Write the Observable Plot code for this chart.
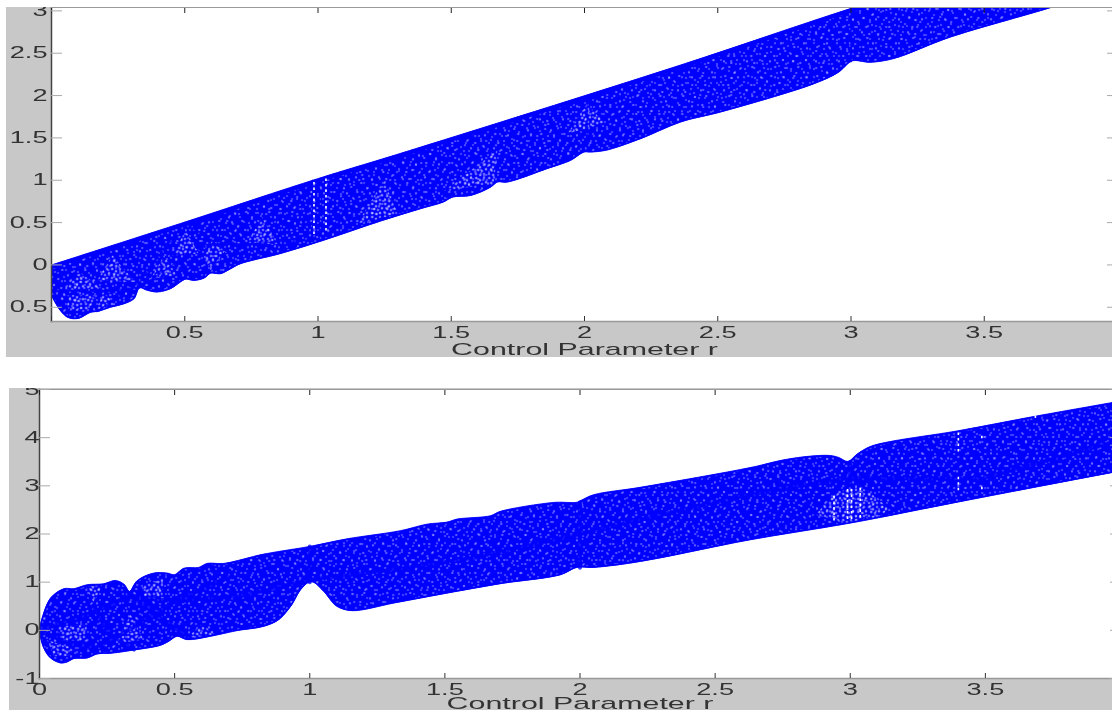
<!DOCTYPE html>
<html><head><meta charset="utf-8">
<script src="https://cdn.jsdelivr.net/npm/d3@7"></script>
<script src="https://cdn.jsdelivr.net/npm/@observablehq/plot@0.6"></script>
<style>
html,body{margin:0;padding:0;background:#fff;width:1112px;height:711px;overflow:hidden}
.panel{position:absolute;overflow:hidden}
.panel svg{display:block;max-width:none;overflow:hidden;filter:blur(.35px)}
</style></head><body>
<div id="top" class="panel" style="left:6px;top:7px;width:1106px;height:350px"></div>
<div id="bottom" class="panel" style="left:9px;top:388px;width:1103px;height:322px"></div>
<script>
const xTicks=[0,0.5,1,1.5,2,2.5,3,3.5];
const xLabel="Control Parameter r";
const topXLabels=["","0.5","1","1.5","2","2.5","3","3.5"];
const bottomXLabels=["0","0.5","1","1.5","2","2.5","3","3.5"];
const topYTicks=[3,2.5,2,1.5,1,0.5,0,-0.5];
const topYLabels=["3","2.5","2","1.5","1","0.5","0","0.5"];
const bottomYTicks=[5,4,3,2,1,0,-1];
const bottomYLabels=["5","4","3","2","1","0","-1"];

const topUpper=[[0,0],[0.5,0.506],[1,1.02],[1.31,1.318],[2.36,2.36],[3,3.03],[4,4.02]];
const topLower=[[0,-0.36],[0.034,-0.54],[0.065,-0.625],[0.103,-0.63],[0.146,-0.56],[0.178,-0.546],[0.221,-0.5],[0.271,-0.46],[0.309,-0.4],[0.33,-0.27],[0.36,-0.3],[0.397,-0.32],[0.447,-0.28],[0.484,-0.2],[0.503,-0.168],[0.534,-0.183],[0.572,-0.156],[0.597,-0.097],[0.634,-0.104],[0.672,-0.045],[0.709,0.014],[0.86,0.135],[1.02,0.29],[1.235,0.518],[1.385,0.664],[1.47,0.742],[1.504,0.8],[1.573,0.82],[1.648,0.92],[1.673,0.979],[1.711,0.979],[1.86,1.137],[1.948,1.235],[1.998,1.333],[2.023,1.333],[2.08,1.353],[2.21,1.49],[2.361,1.688],[2.511,1.806],[2.861,2.14],[2.949,2.267],[3.005,2.41],[3.048,2.4],[3.074,2.393],[3.16,2.437],[3.375,2.693],[3.75,3.04],[4,3.3]];
const topPatches=[
 [[0.196,-0.321],[0.165,-0.538],[0.24,-0.479]],
 [[0.422,0.112],[0.372,-0.163],[0.472,-0.124]],
 [[0.503,0.408],[0.453,0.112],[0.553,0.132]],
 [[0.603,0.29],[0.572,0.092],[0.597,-0.065],[0.653,0.171]],
 [[0.228,0.112],[0.171,-0.183],[0.315,-0.203]],
 [[0.791,0.565],[0.735,0.27],[0.853,0.23]],
 [[0.109,-0.085],[0.046,-0.3],[0.19,-0.281]],
 [[0.059,-0.36],[0.171,-0.36],[0.134,-0.54],[0.065,-0.54]],
 [[1.247,1.0],[1.147,0.487],[1.298,0.605]],
 [[1.673,1.353],[1.473,0.88],[1.66,0.96]],
 [[2.011,1.905],[1.936,1.55],[2.073,1.669]]
];
const topRidges=[
 [[0,-0.3],[0.2,-0.32],[0.33,-0.27]],
 [[0.33,-0.27],[0.5,0.1],[0.6,0.25],[0.75,0.25],[1,0.3]],
 [[0.17,-0.55],[0.33,-0.2],[0.5,0.5]],
 [[0.5,0.5],[0.66,0.15],[0.72,0.05]],
 [[0.98,0.3],[0.98,1]],[[1.005,0.3],[1.005,1]],[[3.0,2.4],[3.0,3.04]],[[2.01,1.35],[2.01,2]]
];
const topGaps={r:[0.985,1.03],y1:[0.36,0.4],y2:[0.98,1.02]};

const bottomUpper=[[0,0],[0.01,0.255],[0.041,0.67],[0.09,0.865],[0.127,0.865],[0.176,0.947],[0.238,0.968],[0.281,1.037],[0.312,0.96],[0.333,0.81],[0.361,1.03],[0.423,1.19],[0.472,1.19],[0.5,1.155],[0.534,1.29],[0.589,1.307],[0.62,1.39],[0.682,1.39],[0.83,1.583],[1,1.743],[1.138,1.9],[1.336,2.07],[1.434,2.205],[1.508,2.247],[1.545,2.31],[1.669,2.38],[1.705,2.47],[1.903,2.656],[1.989,2.66],[2.008,2.71],[2.05,2.815],[2.223,2.97],[2.63,3.38],[2.754,3.54],[2.852,3.617],[2.926,3.63],[2.957,3.59],[2.992,3.506],[3.025,3.658],[3.074,3.817],[3.148,3.92],[3.395,4.14],[3.679,4.44],[4,4.76]];
const bottomLower=[[0,-0.03],[0.016,-0.367],[0.041,-0.575],[0.078,-0.678],[0.102,-0.657],[0.127,-0.587],[0.176,-0.575],[0.213,-0.49],[0.263,-0.477],[0.337,-0.42],[0.448,-0.31],[0.478,-0.228],[0.509,-0.124],[0.546,-0.193],[0.633,-0.124],[0.731,-0.006],[0.83,0.083],[0.885,0.222],[0.929,0.498],[0.966,0.845],[0.996,0.996],[1.015,0.996],[1.052,0.81],[1.101,0.498],[1.157,0.408],[1.311,0.566],[1.496,0.76],[1.705,0.968],[1.928,1.155],[1.989,1.307],[2.051,1.307],[2.223,1.43],[2.63,1.88],[3,2.226],[3.395,2.66],[4,3.31]];
const bottomPatches=[
 [[0.201,0.566],[0.17,0.913],[0.232,0.948]],
 [[0.337,0.325],[0.281,-0.263],[0.386,-0.193]],
 [[0.028,-0.193],[0.053,-0.54],[0.102,-0.54],[0.133,-0.4]],
 [[0.065,0.083],[0.176,0.118],[0.17,-0.228],[0.078,-0.193]],
 [[0.386,0.948],[0.46,1.085],[0.454,0.6],[0.386,0.67]],
 [[0.596,0.118],[0.546,-0.16],[0.651,-0.09]],
 [[2.871,2.4],[2.939,2.815],[3,2.967],[3.062,2.92],[3.142,2.537],[3.105,2.33],[2.988,2.226]]
];
const bottomRidges=[
 [[0,0],[0.2,0.38],[0.333,0.72],[0.5,0.6],[0.75,0.72],[1,1.05],[1.3,1.25],[1.6,1.5],[2,2],[2.3,2.4],[2.63,2.82],[3,3.17],[3.49,3.15],[4,3.95]],
 [[0,0],[0.1,-0.25],[0.2,-0.38],[0.3,-0.1],[0.5,0.6],[0.7,1.1]],
 [[0.2,0.5],[0.26,-0.1],[0.35,-0.4]],
 [[0.33,0.75],[0.5,0.05],[0.55,-0.15]],
 [[1,1],[1,1.74]],[[2,1.3],[2,2.66]],[[3,3],[3,3.5]]
];
const bottomGaps={r:[2.94,3.037,2.99,3.005,3.4,3.4,3.487,3.487,3.685,3.685],
 y1:[2.27,2.33,2.3,2.3,2.9,3.7,2.92,3.98,2.78,4.4],
 y2:[2.82,2.95,2.95,2.95,3.2,4.1,3.0,4.06,2.88,4.48]};

const FONT="'Liberation Sans',Arial,sans-serif";
const pt={x:d=>d[0],y:d=>d[1],clip:true};
const NS="http://www.w3.org/2000/svg";
/* texture tiles: purely a fill style for the band */
const speckA="M2 3h1v1h-1zM9 1h1.4v1h-1.4zM15 6h1v1.4h-1zM21 2h1v1h-1zM5 10h1.4v1h-1.4zM12 12h1v1h-1zM18 11h1v1.4h-1zM1 16h1v1h-1zM8 19h1.4v1h-1.4zM14 17h1v1h-1zM22 19h1v1h-1zM4 24h1v1.4h-1zM11 26h1.4v1h-1.4zM17 23h1v1h-1zM20 27h1v1h-1z";
const speckB="M1 1h1v1h-1zM6 4h1v1h-1zM11 2h1.3v1h-1.3zM16 5h1v1h-1zM24 1h1v1.3h-1zM28 7h1v1h-1zM3 9h1.3v1h-1.3zM9 12h1v1h-1zM20 10h1v1h-1zM14 14h1.3v1h-1.3zM26 14h1v1h-1z";
const denseA="M1 1h1.3v1h-1.3zM5 3h1v1.3h-1zM9 1h1v1h-1zM3 6h1.3v1h-1.3zM7 7h1v1h-1zM11 5h1v1.3h-1zM1 10h1v1h-1zM5 11h1.3v1h-1.3zM9 10h1v1h-1z";
function defsFor(id){
 const d=document.createElementNS(NS,"defs");
 d.innerHTML=`<pattern id="a${id}" patternUnits="userSpaceOnUse" width="23" height="29"><path d="${speckA}" fill="white" stroke="white" stroke-width=".2"/></pattern>
<pattern id="b${id}" patternUnits="userSpaceOnUse" width="31" height="17"><path d="${speckB}" fill="white" stroke="white" stroke-width=".1"/></pattern>
<pattern id="c${id}" patternUnits="userSpaceOnUse" width="13" height="13"><path d="${denseA}" fill="white" stroke="white" stroke-width=".6"/></pattern>`;
 return d;
}
function drawPanel(o){
 const uEnd=o.upper[o.upper.length-1], lEnd=o.lower[o.lower.length-1];
 const band=[...o.upper,uEnd,lEnd,...o.lower.slice().reverse()];
 const svg=Plot.plot({
  width:o.width,height:o.height,
  marginLeft:o.left,marginRight:o.right,marginTop:o.mTop,marginBottom:o.mBottom,
  style:{background:"#c8c8c8",fontFamily:FONT,fontSize:"16px",color:"#333"},
  x:{domain:[0,4]},y:{domain:o.yDomain},
  marks:[
   Plot.frame({fill:"white",stroke:null}),
   Plot.line(band,{...pt,curve:"catmull-rom",fill:"#0000ff",stroke:"#0000ff",strokeWidth:0.8}),
   Plot.line(band,{...pt,curve:"catmull-rom",fill:`url(#a${o.id})`,stroke:"none",fillOpacity:o.grain}),
   Plot.line(band,{...pt,curve:"catmull-rom",fill:`url(#b${o.id})`,stroke:"none",fillOpacity:o.grain}),
   ...o.patches.map(p=>Plot.line(p,{...pt,fill:`url(#c${o.id})`,stroke:"none",fillOpacity:o.dense})),
   ...o.ridges.map(p=>Plot.line(p,{...pt,stroke:"#0000ff",strokeWidth:o.ridgeWidth,strokeOpacity:0.75})),
   Plot.line(o.upper,{...pt,curve:"catmull-rom",stroke:"#0000ff",strokeWidth:o.edge,dy:o.edge/2}),
   Plot.line(o.lower,{...pt,curve:"catmull-rom",stroke:"#0000ff",strokeWidth:1.5,dy:-0.5}),
   Plot.ruleX(o.gaps.r,{x:d=>d,y1:(d,i)=>o.gaps.y1[i],y2:(d,i)=>o.gaps.y2[i],stroke:"white",strokeWidth:1.6,strokeDasharray:"2.5,3",clip:true}),
   Plot.frame({anchor:"left",stroke:"#444",strokeWidth:1.5}),
   Plot.frame({anchor:"bottom",stroke:"#999",strokeWidth:1.5}),
   Plot.frame({anchor:"top",stroke:"#999",strokeWidth:1}),
   Plot.axisX(xTicks,{anchor:"top",tickSize:-5,fill:"none",stroke:"#222",label:null}),
   Plot.axisX(xTicks,{anchor:"bottom",tickSize:-5,tickPadding:o.xPad,stroke:"#333",fill:"#333",
     tickFormat:(d,i)=>o.xLabels[i],label:xLabel,labelAnchor:"center",labelArrow:false,labelOffset:o.labelOffset}),
   Plot.axisY(o.yTicks,{anchor:"left",tickSize:-11,tickPadding:o.yPad,stroke:"#aaa",fill:"#333",
     tickFormat:(d,i)=>o.yLabels[i],label:null}),
   Plot.axisY(o.yTicks,{anchor:"right",tickSize:-11,fill:"none",stroke:"#aaa",label:null})
  ]
 });
 svg.prepend(defsFor(o.id));
 svg.querySelectorAll("text").forEach(t=>{
  const k=t.textContent.startsWith("Control")?1.9:1.7;
  const tr=t.getAttribute("transform")||"";
  t.setAttribute("transform",tr+` scale(${k},1)`);
 });
 document.getElementById(o.id).appendChild(svg);
}

drawPanel({id:"top",width:1112,height:350,left:45,right:1,mTop:0,mBottom:36,yDomain:[-0.668,3.04],
 upper:topUpper,lower:topLower,patches:topPatches,ridges:topRidges,gaps:topGaps,
 grain:0.85,dense:1,ridgeWidth:1.5,edge:4,xPad:10.5,yPad:15,labelOffset:33,
 xLabels:topXLabels,yTicks:topYTicks,yLabels:topYLabels});
drawPanel({id:"bottom",width:1112,height:322,left:30,right:1,mTop:1,mBottom:32,yDomain:[-1,5],
 upper:bottomUpper,lower:bottomLower,patches:bottomPatches,ridges:bottomRidges,gaps:bottomGaps,
 grain:0.8,dense:1,ridgeWidth:4,edge:1.5,xPad:10.5,yPad:11,labelOffset:30,
 xLabels:bottomXLabels,yTicks:bottomYTicks,yLabels:bottomYLabels});
</script>
</body></html>
